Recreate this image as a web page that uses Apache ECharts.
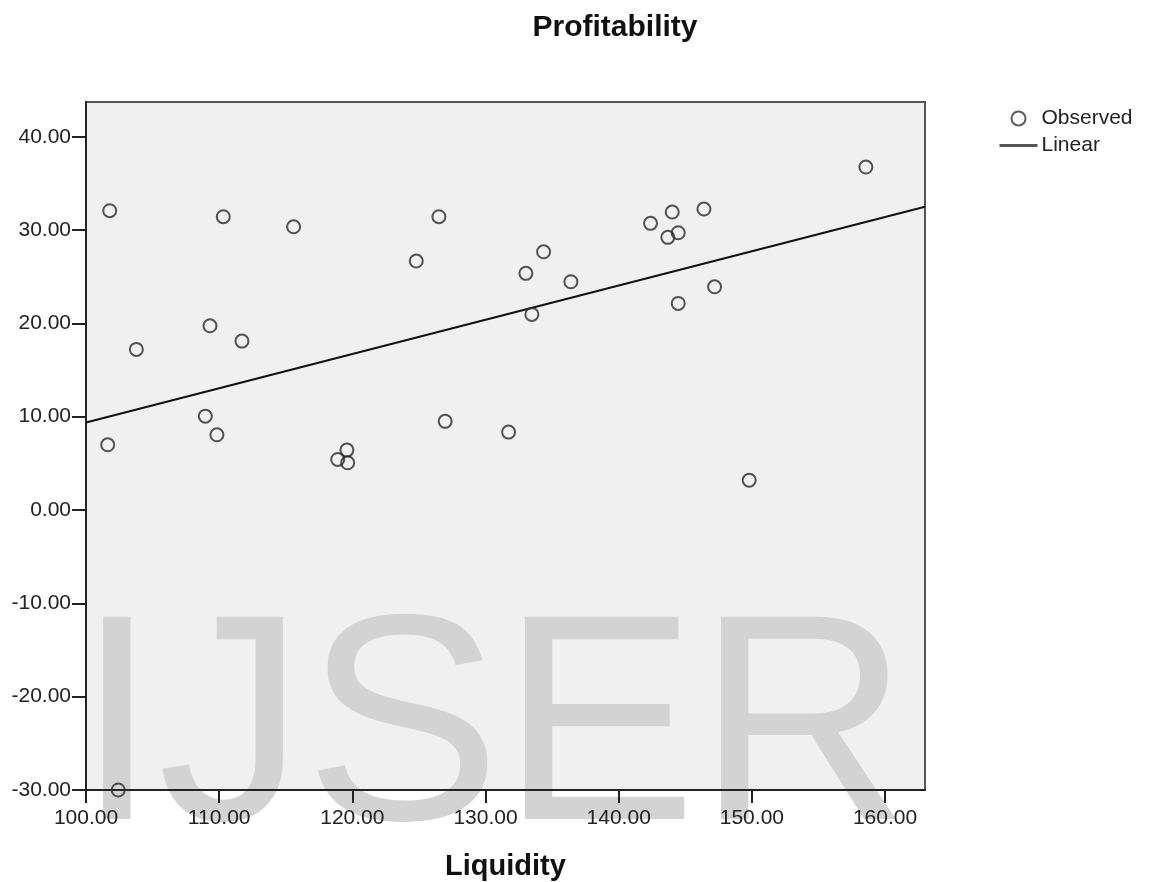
<!DOCTYPE html>
<html>
<head>
<meta charset="utf-8">
<script src="https://cdn.jsdelivr.net/npm/echarts@6.0.0/dist/echarts.min.js"></script>
<style>
html,body{margin:0;padding:0;background:#ffffff;}
#chart{width:1152px;height:882px;}
</style>
</head>
<body>
<div id="chart"></div>
<script>
// Observed points (Liquidity, Profitability)
const liquidity = [
  101.78, 103.78, 101.63, 102.42, 110.31, 109.31, 111.71, 108.96, 109.83, 115.59,
  118.90, 119.59, 119.65, 124.80, 126.50, 126.97, 131.73, 133.03, 133.48, 134.36,
  136.41, 142.39, 144.02, 143.69, 144.47, 144.47, 146.40, 147.20, 149.80, 158.56
];
const profitability = [
  32.07, 17.21, 6.99, -30.00, 31.43, 19.74, 18.10, 10.06, 8.06, 30.35,
  5.42, 6.42, 5.06, 26.68, 31.43, 9.50, 8.35, 25.36, 20.96, 27.67,
  24.46, 30.72, 31.93, 29.22, 29.71, 22.14, 32.25, 23.92, 3.20, 36.75
];
// Linear fit line end points
const fitLiquidity = [100, 163];
const fitProfitability = [9.37, 32.50];

const xTicks = [100, 110, 120, 130, 140, 150, 160];
const yTicks = [-30, -20, -10, 0, 10, 20, 30, 40];

const FONT = '"Liberation Sans", Arial, sans-serif';

const observed = liquidity.map((x, i) => [x, profitability[i]]);
const fit = fitLiquidity.map((x, i) => [x, fitProfitability[i]]);

const chart = echarts.init(document.getElementById('chart'), null, {renderer: 'canvas'});

chart.setOption({
  backgroundColor: '#ffffff',
  animation: false,
  textStyle: {fontFamily: FONT},
  title: {
    text: 'Profitability',
    left: 610,
    top: 8,
    textAlign: 'center',
    textStyle: {fontFamily: FONT, fontSize: 30, fontWeight: 'bold', color: '#111'}
  },
  legend: {
    orient: 'vertical',
    left: 998,
    top: 108,
    padding: 0,
    itemWidth: 38,
    itemHeight: 14,
    itemGap: 6,
    textStyle: {fontFamily: FONT, fontSize: 21, color: '#222', padding: [0, 0, 0, -1]},
    data: [
      {name: 'Observed', icon: 'circle', itemStyle: {color: 'rgba(0,0,0,0)', borderColor: '#333', borderWidth: 2}},
      {name: 'Linear', itemStyle: {opacity: 0}, lineStyle: {color: '#555', width: 3}}
    ]
  },
  grid: {
    left: 86,
    right: 227,
    top: 102,
    bottom: 92,
    show: true,
    backgroundColor: '#f0f0f0',
    borderColor: '#555',
    borderWidth: 2,
    z: 0,
    outerBoundsMode: 'none'
  },
  graphic: [{
    type: 'text',
    z: 1,
    silent: true,
    left: 76,
    top: 591,
    style: {
      text: 'IJSER',
      font: '294px ' + FONT,
      fill: '#d3d3d3'
    }
  }],
  xAxis: {
    type: 'value',
    min: 100,
    max: 163,
    z: 3,
    name: 'Liquidity',
    nameLocation: 'middle',
    nameGap: 62,
    nameTextStyle: {fontFamily: FONT, fontSize: 29, fontWeight: 'bold', color: '#111'},
    axisLine: {show: true, onZero: false, lineStyle: {color: '#222', width: 2}},
    axisTick: {show: true, length: 13, lineStyle: {color: '#222', width: 2}, customValues: xTicks},
    axisLabel: {
      margin: 18, fontSize: 21, color: '#222', fontFamily: FONT,
      customValues: xTicks,
      formatter: v => v.toFixed(2)
    },
    splitLine: {show: false}
  },
  yAxis: {
    type: 'value',
    min: -30,
    max: 43.72,
    z: 3,
    axisLine: {show: true, onZero: false, lineStyle: {color: '#222', width: 2}},
    axisTick: {show: true, length: 14, lineStyle: {color: '#222', width: 2}, customValues: yTicks},
    axisLabel: {
      margin: 15, fontSize: 21, color: '#222', fontFamily: FONT,
      customValues: yTicks,
      formatter: v => v.toFixed(2)
    },
    splitLine: {show: false}
  },
  series: [
    {
      name: 'Observed',
      type: 'scatter',
      z: 4,
      symbol: 'circle',
      symbolSize: 13,
      clip: false,
      itemStyle: {color: 'rgba(0,0,0,0)', borderColor: '#2a2a2a', borderWidth: 2},
      data: observed
    },
    {
      name: 'Linear',
      type: 'line',
      z: 4,
      symbol: 'none',
      showSymbol: false,
      lineStyle: {color: '#111', width: 2},
      data: fit
    }
  ]
});
</script>
</body>
</html>
